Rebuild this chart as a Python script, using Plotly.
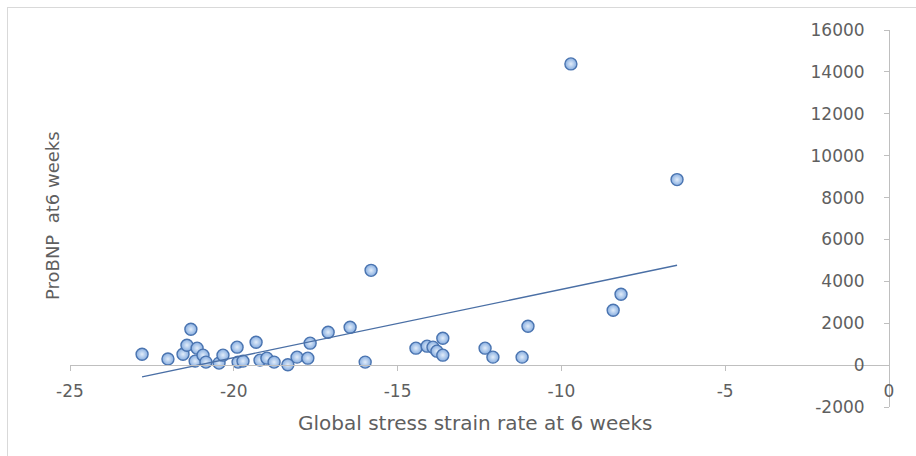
import numpy as np
import plotly.graph_objects as go

W, H = 916, 456

# Global stress strain rate at 6 weeks (x) and ProBNP at 6 weeks (y)
strain_rate = [-22.80, -22.01, -21.55, -21.43, -21.31, -21.12, -21.18, -20.94,
               -20.85, -20.45, -20.33, -19.90, -19.87, -19.72, -19.32, -19.20,
               -18.99, -18.77, -18.35, -18.07, -17.74, -17.67, -17.12, -16.45,
               -15.99, -15.81, -14.44, -14.10, -13.92, -13.80, -13.62, -13.62,
               -12.33, -12.09, -11.20, -11.02, -9.71, -8.42, -8.18, -6.47]
probnp = [520, 290, 520, 950, 1710, 810, 190, 476,
          143, 95, 476, 857, 143, 190, 1095, 238,
          333, 143, 20, 381, 333, 1048, 1571, 1810,
          143, 4524, 810, 905, 857, 667, 1286, 476,
          810, 381, 381, 1857, 14381, 2619, 3381, 8857]

x_ticks = [-25, -20, -15, -10, -5, 0]
x_tick_labels = ["-25", "-20", "-15", "-10", "-5", "0"]
y_ticks = [-2000, 0, 2000, 4000, 6000, 8000, 10000, 12000, 14000, 16000]
y_tick_labels = ["-2000", "0", "2000", "4000", "6000", "8000",
                 "10000", "12000", "14000", "16000"]

x_title = "Global stress strain rate at 6 weeks"
y_title = "ProBNP  at6 weeks"

FONT = "DejaVu Sans"
TEXT = "#5f5f5f"
AXIS = "#bfbfbf"

# pixel geometry of the plotting area
px_left, px_right = 70, 889
py_top, py_bottom = 30, 407
py_zero = 365

fig = go.Figure()

# soft vertical shading of the plot area (white at top, light grey at bottom)
n_bands = 30
for i in range(n_bands):
    y0 = -2000 + i * 18000 / n_bands
    y1 = y0 + 18000 / n_bands
    t = 1 - (i + 0.5) / n_bands
    g = int(round(255 - 17 * t ** 1.3))
    fig.add_shape(type="rect", xref="x", yref="y", x0=-25, x1=0, y0=y0, y1=y1,
                  fillcolor=f"rgb({g},{g},{g})", line_width=0, layer="below")

fig.add_trace(go.Scatter(
    x=strain_rate, y=probnp, mode="markers",
    marker=dict(symbol="circle", size=12, color="#86ade0",
                gradient=dict(type="radial", color="#e2edfa"),
                line=dict(color="#4a74b0", width=1.4)),
    showlegend=False, hoverinfo="skip"))

# least-squares linear trend across the observed range
coef = np.polyfit(strain_rate, probnp, 1)
x_fit = np.array([min(strain_rate), max(strain_rate)])
fig.add_trace(go.Scatter(
    x=x_fit, y=np.polyval(coef, x_fit), mode="lines",
    line=dict(color="#4a6fa5", width=1.3),
    showlegend=False, hoverinfo="skip"))

tickfont = dict(family=FONT, size=17, color=TEXT)

fig.update_layout(
    width=W, height=H,
    margin=dict(l=0, r=0, t=0, b=0, autoexpand=False),
    paper_bgcolor="white", plot_bgcolor="white",
    xaxis=dict(domain=[px_left / W, px_right / W], range=[-25, 0],
               anchor="free", position=(H - py_zero) / H, automargin=False,
               showline=True, linecolor=AXIS, linewidth=1,
               ticks="outside", ticklen=5, tickcolor=AXIS, tickwidth=1,
               tickvals=x_ticks, ticktext=x_tick_labels, tickfont=tickfont,
               ticklabelstandoff=6,
               showgrid=False, zeroline=False),
    yaxis=dict(domain=[(H - py_bottom) / H, (H - py_top) / H],
               range=[-2000, 16000], automargin=False,
               anchor="free", position=px_right / W, side="left",
               showline=True, linecolor=AXIS, linewidth=1,
               ticks="outside", ticklen=5, tickcolor=AXIS, tickwidth=1,
               tickvals=y_ticks, ticktext=y_tick_labels, tickfont=tickfont,
               ticklabelstandoff=16,
               showgrid=False, zeroline=False),
    annotations=[
        dict(text=x_title, xref="paper", yref="paper",
             x=475 / W, y=(H - 423) / H, xanchor="center", yanchor="middle",
             showarrow=False, font=dict(family=FONT, size=20, color=TEXT)),
        dict(text=y_title, xref="paper", yref="paper",
             x=52 / W, y=(H - 216) / H, xanchor="center", yanchor="middle",
             textangle=-90, showarrow=False,
             font=dict(family=FONT, size=18, color=TEXT)),
    ],
    shapes=[
        dict(type="rect", xref="paper", yref="paper",
             x0=7.5 / W, x1=1.05, y0=-0.05, y1=(H - 7.5) / H,
             line=dict(color="#d9d9d9", width=1), fillcolor="rgba(0,0,0,0)",
             layer="below"),
    ],
)

fig.write_html("out.html")
